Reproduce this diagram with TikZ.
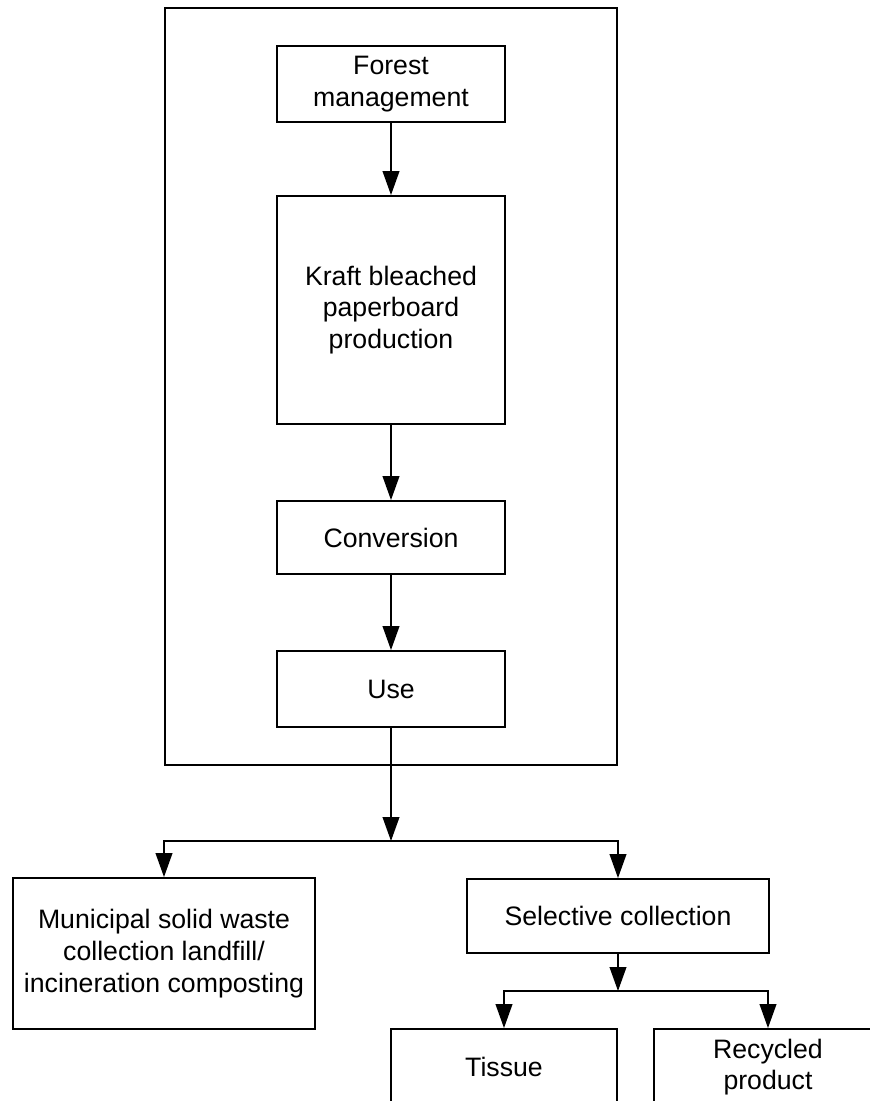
\documentclass[tikz,border=0pt]{standalone}
\usepackage{fontspec}
\setmainfont{Liberation Sans}
\usetikzlibrary{arrows.meta}
\tikzset{
	box/.style={draw, line width=1.4pt, align=center, inner sep=0pt, font=\fontsize{20pt}{23.8pt}\selectfont},
	arr/.style={line width=1.4pt, -{Triangle[length=18pt, width=12.5pt]}},
	link/.style={line width=1.4pt}
}

\begin{document}
\begin{tikzpicture}[x=0.75pt, y=-0.75pt]
		%%%%% START %%%%%
		\useasboundingbox (0, 0) rectangle (870, 1101);
		\clip (0, 0) rectangle (870, 1101);
		
		\draw[link] (165, 8) rectangle (617, 765);
		
		\node[box, minimum width=171pt, minimum height=57pt] (forest) at (391, 84) {Forest\\management};
		\node[box, minimum width=171pt, minimum height=171pt] (kraft) at (391, 310) {Kraft bleached\\paperboard\\production};
		\node[box, minimum width=171pt, minimum height=54.75pt] (conv) at (391, 537.5) {Conversion};
		\node[box, minimum width=171pt, minimum height=57pt] (use) at (391, 689) {Use};
		
		\coordinate (split) at (391, 841);
		\node[box, minimum width=226.5pt, minimum height=113.25pt] (waste) at (164, 953.5) {Municipal solid waste\\collection landfill/\\incineration composting};
		\node[box, minimum width=226.5pt, minimum height=55.5pt] (selective) at (618, 916) {Selective collection};
		
		\coordinate (split2) at (618, 991);
		\node[box, minimum width=169.5pt, minimum height=57pt] (tissue) at (504, 1067) {Tissue};
		\node[box, minimum width=171pt, minimum height=57pt] (recycled) at (768, 1067) {Recycled\\product};
		
		\draw[arr] (forest) -- (kraft);
		\draw[arr] (kraft) -- (conv);
		\draw[arr] (conv) -- (use);
		\draw[arr] (use) -- (split);
		\draw[arr] (split) -| (waste);
		\draw[arr] (split) -| (selective);
		\draw[arr] (selective) -- (split2);
		\draw[arr] (split2) -| (tissue);
		\draw[arr] (split2) -| (recycled);
		
		%%%%% END %%%%%
	\end{tikzpicture}
\end{document}
